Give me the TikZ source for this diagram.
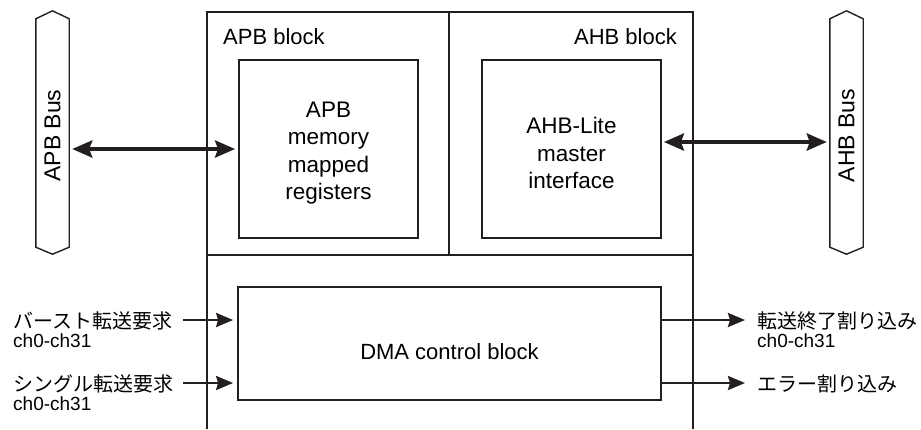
\documentclass[tikz,border=0pt]{standalone}
\usepackage{fontspec}
\setmainfont{Liberation Sans}
\newfontfamily\jp{Noto Sans CJK JP}
\usetikzlibrary{arrows.meta,calc}
\definecolor{ink}{HTML}{231F20}
\tikzset{
  frame/.style={draw=ink,line width=2.4pt},
  innerbox/.style={draw=ink,line width=1.8pt,inner sep=0pt},
  boxtext/.style={align=center,inner sep=0pt,font=\fontsize{22.5}{27.3}\selectfont},
  busarea/.style={inner sep=0pt,minimum width=33pt,minimum height=243pt},
  busline/.style={draw=ink,line width=1.4pt,line join=miter},
  buslbl/.style={rotate=90,inner sep=0pt,font=\fontsize{23}{26}\selectfont},
  bigarr/.style={draw=ink,line width=4pt,{Stealth[length=20pt,width=17pt,inset=3pt]}-{Stealth[length=20pt,width=17pt,inset=3pt]}},
  smallarr/.style={draw=ink,line width=2.6pt,-{Stealth[length=17pt,width=14pt,inset=2pt]}},
  blocklbl/.style={inner sep=0pt,font=\fontsize{22}{26}\selectfont},
  sig/.style={inner sep=0pt,font=\fontsize{19}{20}\selectfont},
  jsig/.style={inner sep=0pt,font=\fontsize{20}{20}\selectfont\jp},
}
\begin{document}
\begin{tikzpicture}[x=1pt,y=-1pt]
\useasboundingbox (0,0) rectangle (921,429);
% outer structure
\draw[frame] (207,429) -- (207,12) -- (693,12) -- (693,429);
\draw[frame] (207,255) -- (693,255);
\draw[frame] (449,12) -- (449,255);
\node[blocklbl,anchor=base west] (apbblk) at (223,44) {APB block};
\node[blocklbl,anchor=base east] (ahbblk) at (677,44) {AHB block};
% inner boxes
\node[innerbox,minimum width=179pt,minimum height=178pt] (apbreg) at (328.5,149) {};
\node[boxtext] (apbregtxt) at ([yshift=-4pt]apbreg.center) {APB\\memory\\mapped\\registers};
\node[innerbox,minimum width=179pt,minimum height=178pt] (ahbif) at (571.5,149) {};
\node[boxtext] (ahbiftxt) at ([yshift=-4pt]ahbif.center) {AHB-Lite\\master\\interface};
\node[innerbox,minimum width=423pt,minimum height=113pt] (dma) at (449.5,343.5) {};
\node[boxtext,anchor=base,font=\fontsize{22}{26}\selectfont] (dmatxt) at ([yshift=-16pt]dma.center) {DMA control block};
% buses
\node[busarea] (apbbus) at (52.5,132.5) {};
\draw[busline] (apbbus.north) -- ([yshift=-8pt]apbbus.north east) -- ([yshift=7pt]apbbus.south east) -- (apbbus.south) -- ([yshift=7pt]apbbus.south west) -- ([yshift=-8pt]apbbus.north west) -- cycle;
\node[buslbl] (apblbl) at ([yshift=-3pt]apbbus.center) {APB Bus};
\node[busarea] (ahbbus) at (846.5,132.5) {};
\draw[busline] (ahbbus.north) -- ([yshift=-8pt]ahbbus.north east) -- ([yshift=7pt]ahbbus.south east) -- (ahbbus.south) -- ([yshift=7pt]ahbbus.south west) -- ([yshift=-8pt]ahbbus.north west) -- cycle;
\node[buslbl] (ahblbl) at ([yshift=-3pt]ahbbus.center) {AHB Bus};
% bus arrows
\draw[bigarr,shorten <=3pt,shorten >=3pt] (apbbus.east |- apbreg.west) -- (apbreg.west);
\coordinate (ahby) at ([yshift=7pt]ahbif.east);
\draw[bigarr,shorten <=2pt,shorten >=3pt] (ahby) -- (ahbbus.west |- ahby);
% input signals
\node[jsig,anchor=base west] (burst) at (13,328) {バースト転送要求};
\node[sig,anchor=base west] (burstch) at (13,347) {ch0-ch31};
\node[jsig,anchor=base west] (single) at (13,391) {シングル転送要求};
\node[sig,anchor=base west] (singlech) at (13,410) {ch0-ch31};
\coordinate (burstin) at (183,320);
\coordinate (singlein) at (183,383);
\draw[smallarr,shorten >=4pt] (burstin) -- (dma.west |- burstin);
\draw[smallarr,shorten >=4pt] (singlein) -- (dma.west |- singlein);
% output signals
\coordinate (doneout) at (745,320);
\coordinate (errout) at (745,383);
\draw[smallarr] (dma.east |- doneout) -- (doneout);
\draw[smallarr] (dma.east |- errout) -- (errout);
\node[jsig,anchor=base west] (done) at (757,328) {転送終了割り込み};
\node[sig,anchor=base west] (donech) at (757,347) {ch0-ch31};
\node[jsig,anchor=base west] (err) at (757,391) {エラー割り込み};
\end{tikzpicture}
\end{document}
